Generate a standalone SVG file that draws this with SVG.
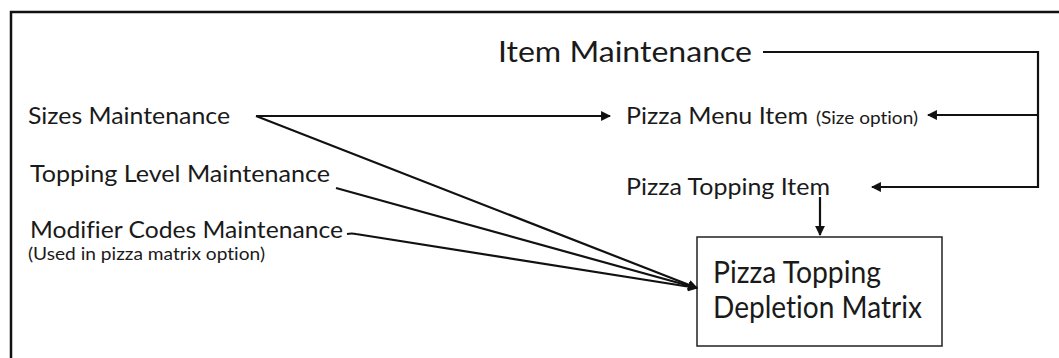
<svg xmlns="http://www.w3.org/2000/svg" width="1059" height="358" viewBox="0 0 1059 358">
<style>
text{font-family:Lato,"Open Sans","Liberation Sans",sans-serif;fill:#1a1a1a;font-variant-ligatures:none}
.c{fill:none;stroke:#111;stroke-width:2.2}
.frame{fill:none;stroke:#111;stroke-width:2.5}
.box{fill:#fff;stroke:#222;stroke-width:1.5}
</style>
<defs>
<marker id="ah" viewBox="0 0 10 10" refX="9" refY="5" markerWidth="4.5" markerHeight="4.5" orient="auto" markerUnits="strokeWidth">
<path d="M0,0 L10,5 L0,10 z" fill="#111"/>
</marker>
</defs>
<rect x="0" y="0" width="1059" height="358" fill="#fff"/>
<path class="frame" d="M11,360 V12 H1062"/>
<g id="item-maintenance"><text x="498" y="62" font-size="29" textLength="254" lengthAdjust="spacingAndGlyphs">Item Maintenance</text></g>
<g id="sizes-maintenance"><text x="28" y="124" font-size="24" textLength="202" lengthAdjust="spacingAndGlyphs">Sizes Maintenance</text></g>
<g id="topping-level-maintenance"><text x="30" y="182" font-size="24" textLength="300" lengthAdjust="spacingAndGlyphs">Topping Level Maintenance</text></g>
<g id="modifier-codes-maintenance"><text x="30" y="238" font-size="24" textLength="313" lengthAdjust="spacingAndGlyphs">Modifier Codes Maintenance</text>
<text x="28" y="260" font-size="16.5" textLength="237" lengthAdjust="spacingAndGlyphs">(Used in pizza matrix option)</text></g>
<g id="pizza-menu-item"><text x="626" y="124" font-size="24" textLength="182" lengthAdjust="spacingAndGlyphs">Pizza Menu Item</text>
<text x="816" y="124" font-size="16.5" textLength="102" lengthAdjust="spacingAndGlyphs">(Size option)</text></g>
<g id="pizza-topping-item"><text x="626" y="195" font-size="24" textLength="204" lengthAdjust="spacingAndGlyphs">Pizza Topping Item</text></g>
<g id="depletion-matrix"><rect class="box" x="697" y="237" width="245" height="109"/>
<text x="713" y="283" font-size="30" textLength="168" lengthAdjust="spacingAndGlyphs">Pizza Topping</text>
<text x="713" y="318" font-size="30" textLength="209" lengthAdjust="spacingAndGlyphs">Depletion Matrix</text></g>
<g id="connectors">
<path class="c" d="M256,116 H610" marker-end="url(#ah)"/>
<path class="c" d="M256,116 L697,288" marker-end="url(#ah)"/>
<path class="c" d="M336,188 L697,288" marker-end="url(#ah)"/>
<path class="c" d="M347,234 Q352,233 356,234 L697,288" marker-end="url(#ah)"/>
<path class="c" d="M763,52 H1038 V187 H872" marker-end="url(#ah)"/>
<path class="c" d="M1038,115 H928" marker-end="url(#ah)"/>
<path class="c" d="M820,197 V235" marker-end="url(#ah)"/>
</g>
</svg>
